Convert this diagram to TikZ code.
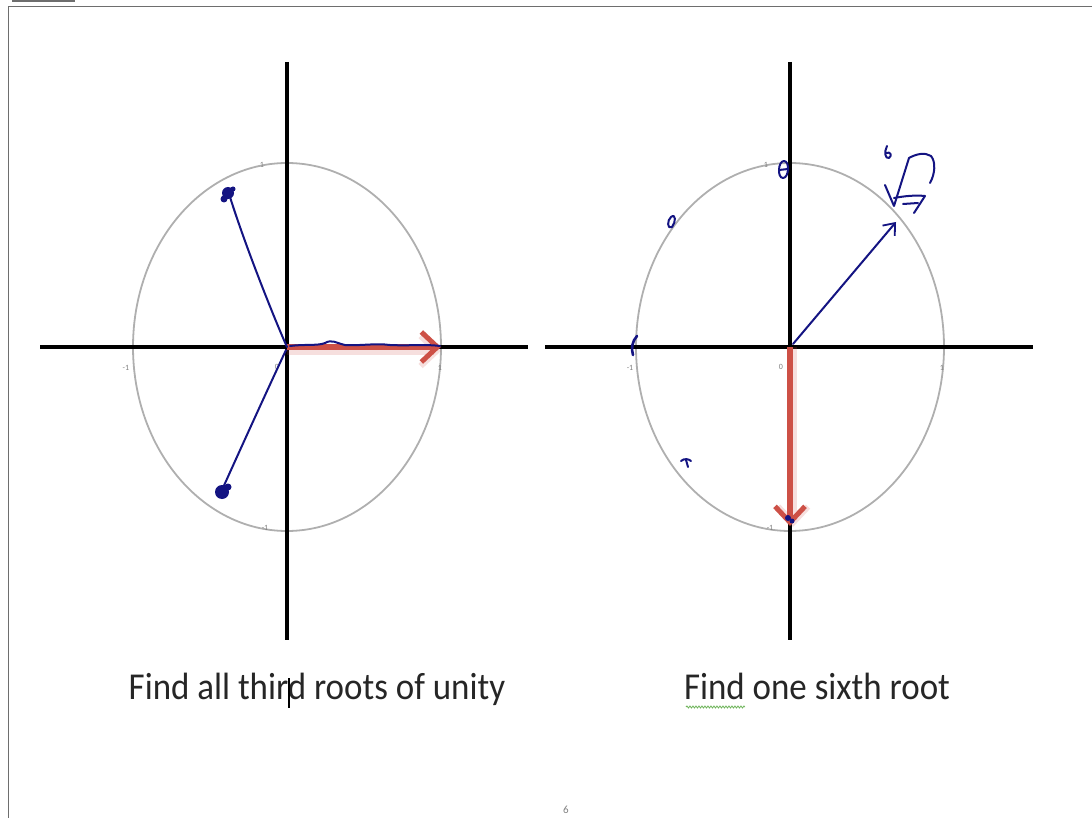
\documentclass[tikz,border=0pt]{standalone}
\usepackage{fontspec}
\setmainfont{Carlito}
\usetikzlibrary{arrows.meta,decorations.pathmorphing}
\definecolor{ink}{RGB}{20,20,130}
\definecolor{redarrow}{RGB}{205,80,70}
\definecolor{circgray}{RGB}{175,175,175}
\definecolor{framegray}{RGB}{110,110,110}
\definecolor{wavegreen}{RGB}{110,180,90}
\tikzset{
  axis/.style={line width=4pt,black},
  unitcirc/.style={line width=1.8pt,circgray},
  ticklab/.style={font=\fontsize{8}{8}\selectfont,text=gray,inner sep=0pt},
  redvec/.style={line width=5.5pt,redarrow,-{Straight Barb[length=16pt,width=30pt,line width=5pt]}},
  redshadow/.style={line width=7pt,redarrow,opacity=0.18,-{Straight Barb[length=16pt,width=30pt,line width=6pt]}},
  pen/.style={line width=2pt,ink,line cap=round,line join=round},
  caption/.style={font=\fontsize{38}{38}\selectfont,text=black!85,inner sep=0pt,anchor=base,xscale=0.92}
}
\begin{document}
\begin{tikzpicture}[x=1pt,y=-1pt]
\useasboundingbox (0,0) rectangle (1092,818);
% page frame
\fill[framegray] (12,0) rectangle (75,2);
\draw[framegray,line width=1.6pt] (1092,6.5) -- (8.5,6.5) -- (8.5,818);

% ---------------- left diagram ----------------
\coordinate (O1) at (287,347);
\draw[unitcirc] (O1) ellipse [x radius=154, y radius=184];
\draw[axis] (40,347) -- (528,347);
\draw[axis] (287,62) -- (287,640);
\node[ticklab] (l1t) at (262,165) {1};
\node[ticklab] (l1l) at (126,368) {-1};
\node[ticklab] (l10) at (277,367) {0};
\node[ticklab] (l1r) at (440,368) {1};
\node[ticklab] (l1b) at (265,528) {-1};
\coordinate (A1) at (441,347);
\coordinate (O1s) at (287,351);
\coordinate (A1s) at (441,351);
\draw[redshadow] (O1s) -- (A1s);
\draw[redvec] (O1) -- (A1);
% blue handwriting
\draw[pen] (O1) .. controls (274,318) and (245,245) .. (230,197);
\fill[ink] (228,193) circle (6);
\fill[ink] (224,199) circle (3.5);
\fill[ink] (233,189) circle (2.5);
\draw[pen] (286,350) .. controls (265,395) and (240,450) .. (222,490);
\fill[ink] (222,492) circle (7);
\fill[ink] (228,487) circle (3.5);
\draw[pen] (290,346) .. controls (305,344) and (318,346) .. (325,343)
  .. controls (332,339) and (336,343) .. (345,345)
  .. controls (360,346) and (375,343) .. (390,345)
  .. controls (410,346) and (425,344) .. (440,346);
% caption
\node[caption] (cap1) at (317,699) {Find all third roots of unity};
\draw[black,line width=1.8pt] (289,678) -- (289,708);

% ---------------- right diagram ----------------
\coordinate (O2) at (790,347);
\draw[unitcirc] (O2) ellipse [x radius=154, y radius=184];
\draw[axis] (545,347) -- (1033,347);
\draw[axis] (790,62) -- (790,640);
\node[ticklab] (r1t) at (766,165) {1};
\node[ticklab] (r1l) at (630,368) {-1};
\node[ticklab] (r10) at (781,367) {0};
\node[ticklab] (r1r) at (942,368) {1};
\node[ticklab] (r1b) at (770,528) {-1};
\coordinate (B2) at (790,526);
\coordinate (O2s) at (793,347);
\coordinate (B2s) at (793,527);
\draw[redshadow] (O2s) -- (B2s);
\draw[redvec] (O2) -- (B2);
% blue handwriting
\coordinate (P2) at (896,222);
\draw[pen,-{Straight Barb[length=10pt,width=16pt,line width=1.8pt]}] (793,344) -- (P2);
% sixth root of 7
\draw[pen] (887,146) .. controls (884,152) and (885,159) .. (889,158)
  .. controls (892,156) and (891,151) .. (886,153);
\draw[pen] (885,185) -- (894,206) -- (909,158) .. controls (916,154) and (925,152) .. (931,156)
  .. controls (936,162) and (935,174) .. (930,183);
\draw[pen] (894,198) .. controls (905,196) and (915,195) .. (925,196)
  -- (914,213);
\draw[pen] (903,204) -- (918,203);
% small marks
\draw[pen] (671,217) .. controls (676,213) and (676,222) .. (672,227)
  .. controls (667,230) and (667,220) .. (671,217);
\draw[pen] (784,161) .. controls (790,161) and (789,178) .. (783,178)
  .. controls (777,178) and (778,161) .. (784,161);
\draw[pen] (779,170) -- (788,169);
\draw[pen,line width=2.6pt] (637,336) .. controls (632,341) and (631,349) .. (633,355);
\draw[pen] (681,461) .. controls (684,458) and (689,459) .. (691,461);
\draw[pen] (686,460) -- (688,467);
\fill[ink] (788,518) circle (3);
\fill[ink] (792,521) circle (2.5);
% caption
\node[caption] (cap2) at (817,699) {Find one sixth root};
\draw[wavegreen,line width=0.8pt,decorate,decoration={snake,amplitude=1pt,segment length=3pt}] (686,707) -- (745,707);

% page number
\node[font=\fontsize{11}{11}\selectfont\rmfamily,text=gray,inner sep=0pt] (pg) at (566,810) {6};
\end{tikzpicture}
\end{document}
